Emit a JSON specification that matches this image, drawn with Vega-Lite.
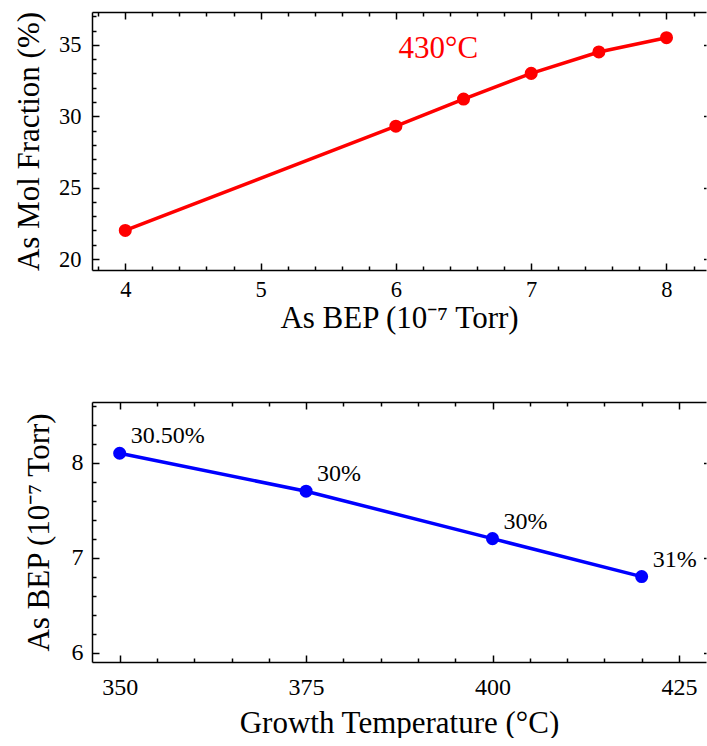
{
  "$schema": "https://vega.github.io/schema/vega-lite/v6.json",
  "padding": {"left": 13, "top": 5, "right": 0, "bottom": 0},
  "spacing": 59,
  "config": {
    "view": {"stroke": null},
    "font": "Liberation Serif",
    "text": {"font": "Liberation Serif"},
    "axis": {
      "grid": false,
      "domainColor": "black",
      "domainWidth": 1.5,
      "tickColor": "black",
      "tickWidth": 1.5,
      "labelFont": "Liberation Serif",
      "labelFontSize": 22.5,
      "labelColor": "black",
      "titleFont": "Liberation Serif",
      "titleFontSize": 31,
      "titleFontWeight": "normal",
      "titleColor": "black",
      "labelOverlap": false,
      "labelFlush": false,
      "labelBound": false
    }
  },
  "vconcat": [
    {
      "width": 614,
      "height": 258,
      "data": {"values": [
        {"bep": 4, "mol": 22.0},
        {"bep": 6, "mol": 29.3},
        {"bep": 6.5, "mol": 31.2},
        {"bep": 7, "mol": 33.0},
        {"bep": 7.5, "mol": 34.5},
        {"bep": 8, "mol": 35.5}
      ]},
      "layer": [
        {
          "mark": {"type": "line", "color": "#ff0000", "strokeWidth": 3.5, "point": {"filled": true, "size": 170, "color": "#ff0000", "opacity": 1}},
          "encoding": {
            "x": {"field": "bep", "type": "quantitative", "scale": {"domain": [3.754, 8.292], "nice": false, "zero": false},
              "axis": {"orient": "bottom", "title": "As BEP (10⁻⁷ Torr)", "values": [3.8,4,4.2,4.4,4.6,4.8,5,5.2,5.4,5.6,5.8,6,6.2,6.4,6.6,6.8,7,7.2,7.4,7.6,7.8,8,8.2],
                "labelExpr": "abs(datum.value-round(datum.value))<0.001 ? toString(round(datum.value)) : ''",
                "tickSize": {"condition": {"test": "abs(datum.value-round(datum.value))<0.001", "value": -7}, "value": -4},
                "labelFont": "Liberation Serif", "labelFontSize": 22.5,
                "labelPadding": 15, "titlePadding": 0}},
            "y": {"field": "mol", "type": "quantitative", "scale": {"domain": [19.23, 37.3], "nice": false, "zero": false},
              "axis": {"orient": "left", "title": "As Mol Fraction (%)", "values": [20,21,22,23,24,25,26,27,28,29,30,31,32,33,34,35,36,37],
                "labelExpr": "datum.value % 5 == 0 ? toString(datum.value) : ''",
                "tickSize": {"condition": {"test": "datum.value % 5 == 0", "value": -7}, "value": -4},
                "labelFont": "Liberation Serif", "labelFontSize": 22.5,
                "labelPadding": 18, "titlePadding": 13}}
          }
        },
        {
          "data": {"values": [{"x": 6.02, "y": 34.05, "text": "430°C"}]},
          "mark": {"type": "text", "align": "left", "baseline": "alphabetic", "color": "#ff0000", "fontSize": 31, "font": "Liberation Serif"},
          "encoding": {
            "x": {"field": "x", "type": "quantitative", "axis": null},
            "y": {"field": "y", "type": "quantitative", "axis": null},
            "text": {"field": "text"}
          }
        },
        {
          "mark": {"type": "point", "opacity": 0},
          "encoding": {
            "x": {"field": "bep", "type": "quantitative",
              "axis": {"orient": "bottom", "offset": -258, "title": null, "labels": false, "values": [3.8,4,4.2,4.4,4.6,4.8,5,5.2,5.4,5.6,5.8,6,6.2,6.4,6.6,6.8,7,7.2,7.4,7.6,7.8,8,8.2],
                "tickSize": {"condition": {"test": "abs(datum.value-round(datum.value))<0.001", "value": 7}, "value": 4}}},
            "y": {"field": "mol", "type": "quantitative",
              "axis": {"orient": "left", "offset": -614, "domain": false, "title": null, "labels": false, "values": [20,25,30,35],
                "tickSize": 2.5}}
          }
        }
      ],
      "resolve": {"axis": {"x": "independent", "y": "independent"}}
    },
    {
      "width": 614,
      "height": 260,
      "data": {"values": [
        {"temp": 350, "bep": 8.1, "label": "30.50%"},
        {"temp": 375, "bep": 7.7, "label": "30%"},
        {"temp": 400, "bep": 7.2, "label": "30%"},
        {"temp": 420, "bep": 6.8, "label": "31%"}
      ]},
      "layer": [
        {
          "mark": {"type": "line", "color": "#0000ff", "strokeWidth": 3.5, "point": {"filled": true, "size": 170, "color": "#0000ff", "opacity": 1}},
          "encoding": {
            "x": {"field": "temp", "type": "quantitative", "scale": {"domain": [346.29, 428.63], "nice": false, "zero": false},
              "axis": {"orient": "bottom", "title": "Growth Temperature (°C)", "values": [350,355,360,365,370,375,380,385,390,395,400,405,410,415,420,425],
                "labelExpr": "datum.value % 25 == 0 ? toString(datum.value) : ''",
                "tickSize": {"condition": {"test": "datum.value % 25 == 0", "value": -7}, "value": -4},
                "labelFont": "Liberation Serif", "labelFontSize": 24,
                "labelPadding": 20, "titlePadding": 6}},
            "y": {"field": "bep", "type": "quantitative", "scale": {"domain": [5.9, 8.64], "nice": false, "zero": false},
              "axis": {"orient": "left", "title": "As BEP (10⁻⁷ Torr)", "values": [6,6.2,6.4,6.6,6.8,7,7.2,7.4,7.6,7.8,8,8.2,8.4,8.6],
                "labelExpr": "abs(datum.value-round(datum.value))<0.001 ? toString(round(datum.value)) : ''",
                "tickSize": {"condition": {"test": "abs(datum.value-round(datum.value))<0.001", "value": -7}, "value": -4},
                "labelFont": "Liberation Serif", "labelFontSize": 24,
                "labelPadding": 16, "titlePadding": 16}}
          }
        },
        {
          "mark": {"type": "text", "align": "left", "baseline": "alphabetic", "dx": 11, "dy": -10, "color": "black", "fontSize": 24, "font": "Liberation Serif"},
          "encoding": {
            "x": {"field": "temp", "type": "quantitative", "axis": null},
            "y": {"field": "bep", "type": "quantitative", "axis": null},
            "text": {"field": "label"}
          }
        },
        {
          "mark": {"type": "point", "opacity": 0},
          "encoding": {
            "x": {"field": "temp", "type": "quantitative",
              "axis": {"orient": "bottom", "offset": -260, "title": null, "labels": false, "values": [350,355,360,365,370,375,380,385,390,395,400,405,410,415,420,425],
                "tickSize": {"condition": {"test": "datum.value % 25 == 0", "value": 7}, "value": 4}}},
            "y": {"field": "bep", "type": "quantitative",
              "axis": {"orient": "left", "offset": -614, "domain": false, "title": null, "labels": false, "values": [6,7,8],
                "tickSize": 2.5}}
          }
        }
      ],
      "resolve": {"axis": {"x": "independent", "y": "independent"}}
    }
  ]
}
